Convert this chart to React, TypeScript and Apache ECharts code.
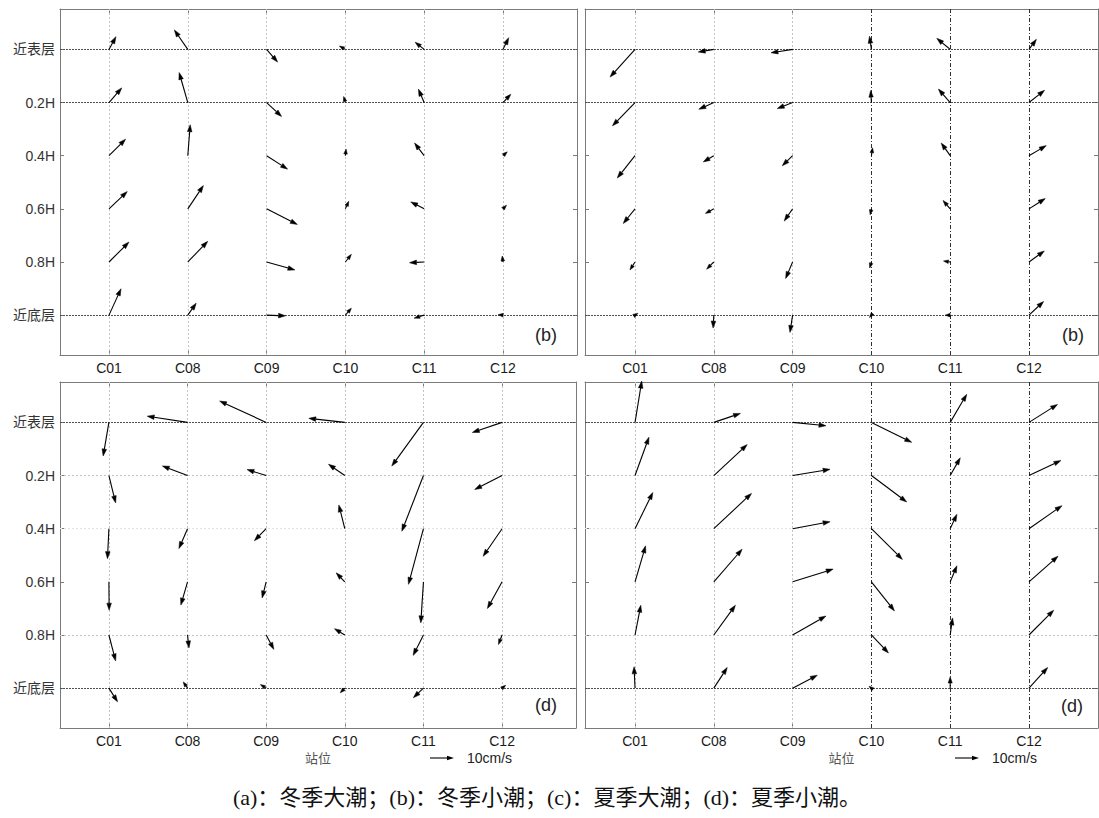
import React, { useEffect, useRef } from "react";
import * as echarts from "echarts";

// ---------- data ----------
const STATIONS = ["C01", "C08", "C09", "C10", "C11", "C12"];
const LAYERS = ["近表层", "0.2H", "0.4H", "0.6H", "0.8H", "近底层"];
const STATION_POS = [1, 2, 3, 4, 5, 6];
const LAYER_POS = [0, 1, 2, 3, 4, 5];

// velocity components (cm/s): rows = layers, columns = stations; u east, v north
const U_A = [
  [2.9, -5.6, 4.6, -2.5, -3.75, 2.4],
  [5.3, -3.6, 6.25, -0.7, -2.4, 3.3],
  [6.9, 1.0, 8.75, 0.3, -4.0, 1.8],
  [7.6, 6.5, 12.8, 1.4, -5.6, 1.5],
  [8.3, 8.3, 11.8, 2.5, -6.1, -0.3],
  [5.0, 3.5, 7.9, 2.5, -4.2, -2.0],
];
const V_A = [
  [5.3, 8.1, -5.3, 1.4, 3.0, 4.9],
  [6.1, 12.5, -5.8, 2.5, 5.6, 3.5],
  [6.9, 12.9, -5.6, 2.8, 5.3, 1.6],
  [7.2, 9.7, -6.5, 3.2, 2.9, 1.5],
  [8.3, 8.6, -3.3, 3.2, -0.3, 2.5],
  [11.0, 5.0, -0.3, 2.9, -1.25, 0.2],
];

const U_B = [
  [-10.4, -6.5, -9.0, -0.8, -5.6, 3.1],
  [-9.4, -6.25, -6.4, -0.3, -4.9, 6.5],
  [-7.4, -4.4, -4.3, 0.5, -3.75, 7.2],
  [-4.9, -3.5, -3.5, -0.5, -3.0, 6.8],
  [-2.1, -3.0, -2.9, -0.7, -2.8, 6.4],
  [1.2, -0.3, -1.1, -0.8, -2.1, 6.1],
];
const V_B = [
  [-11.5, -1.1, -1.4, 5.5, 4.6, 4.2],
  [-9.7, -2.8, -2.5, 5.0, 5.6, 5.1],
  [-9.3, -2.6, -4.2, 3.3, 5.3, 4.2],
  [-6.1, -1.9, -5.1, -2.5, 3.5, 4.3],
  [-3.3, -3.0, -6.9, -2.5, 0.4, 4.6],
  [0.8, -5.4, -7.2, -1.0, 0.0, 5.7],
];

const U_C = [
  [-2.4, -16.8, -19.4, -15.0, -13.2, -12.4],
  [2.8, -10.5, -8.0, -6.8, -9.0, -11.4],
  [-0.6, -3.6, -4.9, -2.5, -6.25, -7.9],
  [0.1, -2.8, -1.7, -3.6, -1.1, -6.1],
  [2.8, 0.6, 3.2, -4.3, -4.3, -1.5],
  [3.6, -1.8, -2.4, -1.9, -4.2, 1.5],
];
const V_C = [
  [-14.0, 2.6, 8.9, 1.7, -18.2, -4.2],
  [-11.4, 4.0, 2.5, 4.7, -23.2, -5.8],
  [-12.5, -8.3, -5.0, 9.9, -23.2, -11.5],
  [-11.8, -9.7, -6.7, 3.75, -17.1, -11.1],
  [-10.8, -5.4, -6.0, 2.6, -8.5, -4.0],
  [-5.7, 2.6, 1.5, -1.9, -4.0, 1.2],
];

const U_D = [
  [2.8, 11.1, 13.9, 16.8, 6.9, 11.9],
  [5.8, 13.9, 15.6, 14.7, 4.2, 13.3],
  [7.4, 15.7, 15.6, 12.9, 2.8, 13.75],
  [4.4, 11.8, 16.9, 9.6, 2.8, 12.1],
  [2.4, 9.0, 13.9, 7.1, 1.0, 10.3],
  [-0.4, 5.6, 10.3, -1.0, 0.0, 7.8],
];
const V_D = [
  [17.2, 3.75, -1.4, -8.3, 11.7, 7.5],
  [16.0, 12.9, 2.6, -11.0, 7.4, 6.25],
  [15.1, 14.7, 2.9, -12.8, 6.0, 9.6],
  [15.0, 13.6, 5.3, -12.1, 6.7, 10.7],
  [12.4, 12.4, 7.9, -7.5, 7.1, 10.3],
  [8.9, 8.6, 5.4, 0.8, 4.7, 8.6],
];

const PANEL_TAGS = ["(b)", "(b)", "(d)", "(d)"];
const CAPTION = "(a)：冬季大潮；(b)：冬季小潮；(c)：夏季大潮；(d)：夏季小潮。";
const X_NAME = "站位";
const LEGEND_SPEED = 10;
const LEGEND_TEXT = "10cm/s";

// ---------- layout / style ----------
const PX_PER_CMS = 2.4;
const SANS = "'Liberation Sans', Arial, 'Noto Sans CJK SC', sans-serif";
const SERIF = "'Liberation Serif', 'Times New Roman', 'Noto Sans CJK SC', serif";
const AXIS_GRAY = "#7a7a7a";
const LIGHT = { color: "#c4c4c4", type: [2, 2] as any, width: 1 };
const LIGHT2 = { color: "#e2e2e2", type: [2, 2] as any, width: 1 };
const DARK_H = { color: "#505050", type: [2, 1] as any, width: 1 };
const DARK_V = { color: "#303030", type: [4, 2, 1, 2] as any, width: 1 };

const PANELS = [
  {
    u: U_A, v: V_A, left: 60, top: 9, width: 517, height: 346, xMin: 0.378, xMax: 6.94,
    yLabels: true, xName: false,
    vLines: [LIGHT, LIGHT, LIGHT, LIGHT, LIGHT, LIGHT],
    hLines: [DARK_H, DARK_H, null, null, null, DARK_H],
    tagX: 547, tagY: 337, legendX: 0,
  },
  {
    u: U_B, v: V_B, left: 585, top: 9, width: 513, height: 346, xMin: 0.365, xMax: 6.876,
    yLabels: false, xName: false,
    vLines: [LIGHT, LIGHT, LIGHT, DARK_V, DARK_V, DARK_V],
    hLines: [DARK_H, DARK_H, null, null, null, DARK_H],
    tagX: 1074, tagY: 337, legendX: 0,
  },
  {
    u: U_C, v: V_C, left: 60, top: 382, width: 516, height: 346, xMin: 0.378, xMax: 6.94,
    yLabels: true, xName: true,
    vLines: [LIGHT, LIGHT, LIGHT, LIGHT, LIGHT, LIGHT],
    hLines: [DARK_H, LIGHT, LIGHT2, null, LIGHT, DARK_H],
    tagX: 547, tagY: 707, legendX: 430,
  },
  {
    u: U_D, v: V_D, left: 585, top: 382, width: 513, height: 346, xMin: 0.365, xMax: 6.876,
    yLabels: false, xName: true,
    vLines: [LIGHT, LIGHT, LIGHT, DARK_V, DARK_V, DARK_V],
    hLines: [DARK_H, LIGHT, LIGHT2, null, LIGHT, DARK_H],
    tagX: 1073, tagY: 708, legendX: 955,
  },
];
const Y_MIN = -0.76;
const Y_MAX = 5.75;

function arrowParts(sx: number, sy: number, ex: number, ey: number) {
  const dx = ex - sx;
  const dy = ey - sy;
  const len = Math.hypot(dx, dy);
  if (len < 0.3) return null;
  const ux = dx / len;
  const uy = dy / len;
  const h = Math.min(7, Math.max(len * 0.55, 5));
  const hw = Math.max(1.8, h * 0.33);
  const bx = ex - ux * Math.min(h, len);
  const by = ey - uy * Math.min(h, len);
  const hx = ex - ux * h;
  const hy = ey - uy * h;
  const p1 = [hx - uy * hw, hy + ux * hw];
  const p2 = [hx + uy * hw, hy - ux * hw];
  return { bx, by, p1, p2 };
}

function renderArrow(params: any, api: any) {
  const x = api.value(0);
  const y = api.value(1);
  const u = api.value(2);
  const v = api.value(3);
  const [sx, sy] = api.coord([x, y]);
  const ex = sx + u * PX_PER_CMS;
  const ey = sy - v * PX_PER_CMS;
  const a = arrowParts(sx, sy, ex, ey);
  if (!a) return null;
  return {
    type: "group",
    children: [
      {
        type: "line",
        shape: { x1: sx, y1: sy, x2: a.bx, y2: a.by },
        style: { stroke: "#000", lineWidth: 1.1 },
      },
      {
        type: "polygon",
        shape: { points: [[ex, ey], a.p1, a.p2] },
        style: { fill: "#000", stroke: "#000", lineWidth: 0.5 },
      },
    ],
  };
}

function buildOption() {
  const grid: any[] = [];
  const xAxis: any[] = [];
  const yAxis: any[] = [];
  const series: any[] = [];
  const graphic: any[] = [];

  PANELS.forEach((p, i) => {
    grid.push({ left: p.left, top: p.top, width: p.width, height: p.height, outerBoundsMode: "none", containLabel: false });
    const xBase = {
      type: "value",
      gridIndex: i,
      min: p.xMin,
      max: p.xMax,
      axisLine: { show: true, onZero: false, lineStyle: { color: AXIS_GRAY, width: 1 } },
      axisTick: { show: true, inside: true, length: 4, customValues: STATION_POS, lineStyle: { color: AXIS_GRAY } },
      splitLine: { show: false },
    };
    xAxis.push({
      ...xBase,
      position: "bottom",
      axisLabel: {
        show: true,
        customValues: STATION_POS,
        formatter: (val: number) => STATIONS[Math.round(val) - 1] ?? "",
        color: "#1a1a1a",
        fontSize: 14,
        fontFamily: SANS,
        margin: 6,
      },
      name: p.xName ? X_NAME : "",
      nameLocation: "middle",
      nameGap: 23,
      nameTextStyle: { color: "#555", fontSize: 13, fontFamily: "'Noto Sans CJK SC', sans-serif" },
    });
    xAxis.push({ ...xBase, position: "top", axisLabel: { show: false } });

    const yBase = {
      type: "value",
      gridIndex: i,
      inverse: true,
      min: Y_MIN,
      max: Y_MAX,
      axisLine: { show: true, onZero: false, lineStyle: { color: AXIS_GRAY, width: 1 } },
      axisTick: { show: true, inside: true, length: 4, customValues: LAYER_POS, lineStyle: { color: AXIS_GRAY } },
      splitLine: { show: false },
    };
    yAxis.push({
      ...yBase,
      position: "left",
      axisLabel: {
        show: p.yLabels,
        customValues: LAYER_POS,
        formatter: (val: number) => LAYERS[Math.round(val)] ?? "",
        color: "#333",
        fontSize: 14,
        fontFamily: SANS,
        margin: 5,
      },
    });
    yAxis.push({ ...yBase, position: "right", axisLabel: { show: false } });

    const data: any[] = [];
    LAYERS.forEach((_, j) => {
      STATIONS.forEach((__, k) => {
        data.push([STATION_POS[k], LAYER_POS[j], p.u[j][k], p.v[j][k]]);
      });
    });

    const lines: any[] = [];
    p.vLines.forEach((ls, k) => {
      if (ls) lines.push({ xAxis: STATION_POS[k], lineStyle: ls });
    });
    p.hLines.forEach((ls, j) => {
      if (ls) lines.push({ yAxis: LAYER_POS[j], lineStyle: ls });
    });

    series.push({
      type: "custom",
      xAxisIndex: 2 * i,
      yAxisIndex: 2 * i,
      clip: false,
      silent: true,
      z: 5,
      renderItem: renderArrow,
      data,
      markLine: {
        silent: true,
        symbol: ["none", "none"],
        label: { show: false },
        z: 1,
        data: lines,
      },
    });

    graphic.push({
      type: "text",
      left: p.tagX - 12,
      top: p.tagY - 11,
      style: { text: PANEL_TAGS[i], fontSize: 18, fontFamily: SANS, fill: "#222" },
    });

    if (p.xName) {
      const len = LEGEND_SPEED * PX_PER_CMS;
      const ly = 758;
      const a = arrowParts(p.legendX, ly, p.legendX + len, ly)!;
      graphic.push({
        type: "line",
        shape: { x1: p.legendX, y1: ly, x2: a.bx, y2: a.by },
        style: { stroke: "#000", lineWidth: 1.1 },
      });
      graphic.push({
        type: "polygon",
        shape: { points: [[p.legendX + len, ly], a.p1, a.p2] },
        style: { fill: "#000" },
      });
      graphic.push({
        type: "text",
        x: p.legendX + len + 13,
        y: ly,
        style: { text: LEGEND_TEXT, fontSize: 14, fontFamily: SANS, fill: "#222", verticalAlign: "middle" },
      });
    }
  });

  graphic.push({
    type: "text",
    x: 547,
    y: 797,
    style: {
      text: CAPTION,
      fontSize: 22,
      fontFamily: SERIF,
      fill: "#111",
      align: "center",
      verticalAlign: "middle",
    },
  });

  return {
    animation: false,
    backgroundColor: "#fff",
    grid,
    xAxis,
    yAxis,
    series,
    graphic,
  };
}

export default function App() {
  const ref = useRef<HTMLDivElement>(null);
  useEffect(() => {
    if (!ref.current) return;
    const chart = echarts.init(ref.current, undefined, { renderer: "svg" });
    chart.setOption(buildOption() as any);
    return () => chart.dispose();
  }, []);
  return (
    <div
      ref={ref}
      style={{ position: "absolute", left: 0, top: 0, width: 1099, height: 818, background: "#fff" }}
    />
  );
}
